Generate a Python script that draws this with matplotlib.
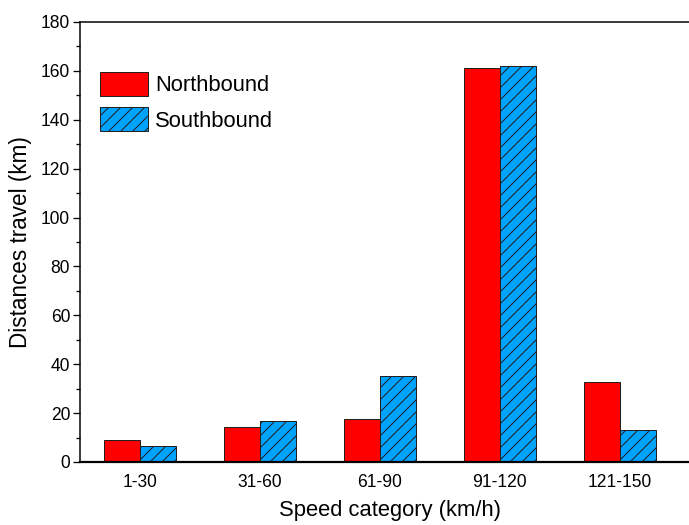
"""
Distances travelled per speed category, northbound vs southbound.
"""

import numpy as np
import matplotlib
matplotlib.use("Agg")
from matplotlib import pyplot as plt
from matplotlib.ticker import MultipleLocator

categories = ["1-30", "31-60", "61-90", "91-120", "121-150"]
northbound = [8.9, 14.4, 17.5, 161.0, 32.9]
southbound = [6.5, 16.9, 35.0, 162.0, 13.1]

plt.rcParams["font.family"] = ["Liberation Sans", "DejaVu Sans"]
plt.rcParams["hatch.linewidth"] = 1.0

fig = plt.figure(figsize=(689 / 72, 525 / 72), dpi=72)
ax = fig.add_axes([80 / 689, 63 / 525, 620 / 689, 440 / 525])

x = np.arange(len(categories))
width = 0.3
ax.bar(x - width / 2, northbound, width, color="#ff0000", edgecolor="#202020",
       linewidth=1.0, label="Northbound")
ax.bar(x + width / 2, southbound, width, color="#00a2ff", edgecolor="#202020",
       linewidth=1.0, hatch="//", label="Southbound")

ax.set_xlim(-0.5, 4.67)
ax.set_ylim(0, 180)
ax.set_xticks(x)
ax.set_xticklabels(categories)
ax.yaxis.set_major_locator(MultipleLocator(20))
ax.yaxis.set_minor_locator(MultipleLocator(10))
ax.tick_params(axis="x", length=0, labelsize=17.5, pad=12)
ax.tick_params(axis="y", which="major", length=7, width=1.3, labelsize=17.5, pad=3)
ax.tick_params(axis="y", which="minor", length=4, width=1.3)

for side in ["left", "top"]:
    ax.spines[side].set_linewidth(1.5)
ax.spines["bottom"].set_linewidth(2.2)
ax.spines["right"].set_visible(False)

ax.set_xlabel("Speed category (km/h)", fontsize=22, labelpad=9)
ax.set_ylabel("Distances travel (km)", fontsize=22.5, labelpad=9)

ax.legend(loc="upper left", bbox_to_anchor=(100 / 689, 1 - 72 / 525),
          bbox_transform=fig.transFigure, frameon=False, fontsize=22,
          handlelength=2.2, handleheight=1.3, handletextpad=0.3,
          labelspacing=0.5, borderpad=0, borderaxespad=0)

fig.savefig("out.png", dpi=72)
plt.close()
